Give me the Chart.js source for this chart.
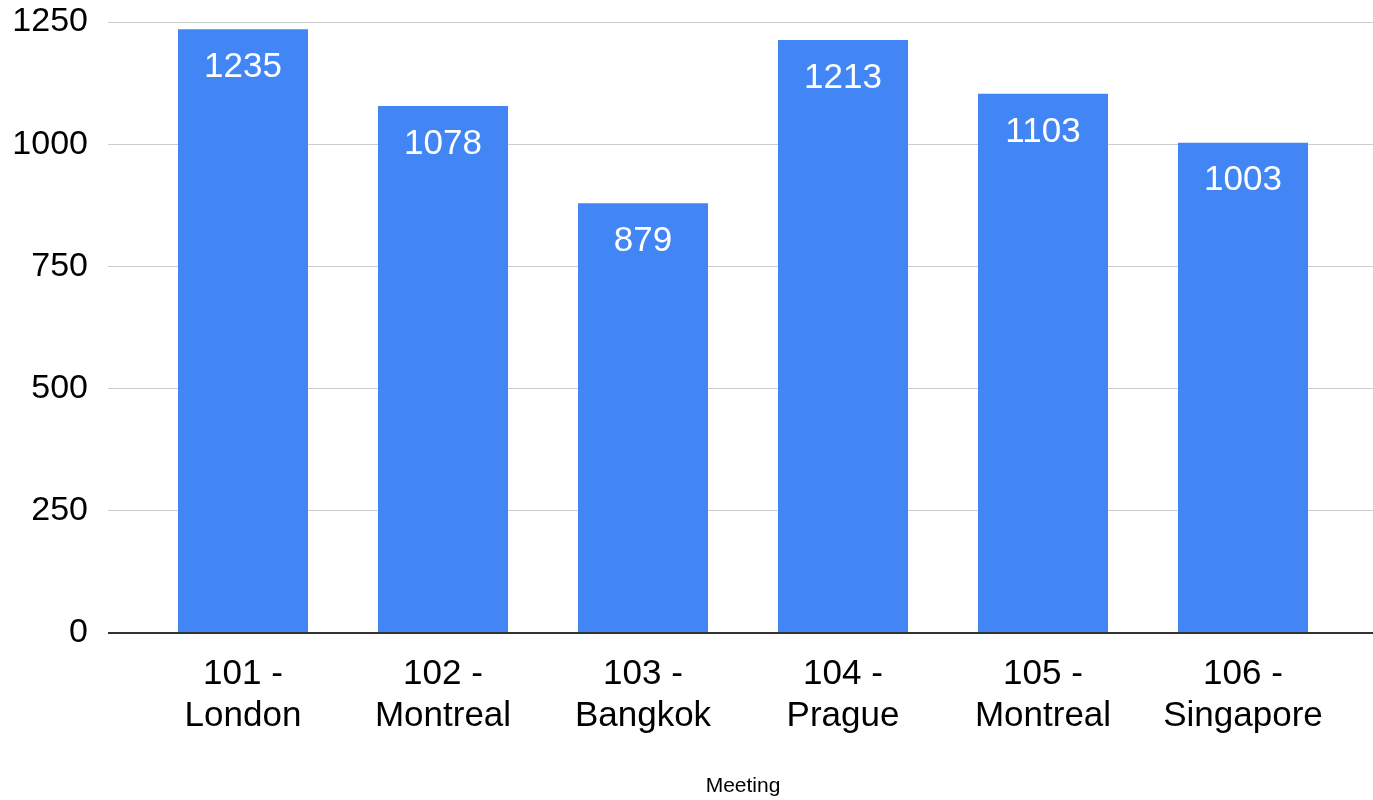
<!DOCTYPE html>
<html>
<head>
<meta charset="utf-8">
<script src="https://cdn.jsdelivr.net/npm/chart.js@4"></script>
<style>
  html, body { margin: 0; padding: 0; background: #fff; }
  #wrap { width: 1373px; height: 800px; }
</style>
</head>
<body>
<div id="wrap"><canvas id="meetingChart"></canvas></div>
<script>
const meetings = [['101 -', 'London'], ['102 -', 'Montreal'], ['103 -', 'Bangkok'],
                  ['104 -', 'Prague'], ['105 -', 'Montreal'], ['106 -', 'Singapore']];
const attendees = [1235, 1078, 879, 1213, 1103, 1003];
const yTicks = [0, 250, 500, 750, 1000, 1250];

const FONT = '"Liberation Sans", Arial, sans-serif';

// white value labels inside the top of each bar
const barLabels = {
    id: 'barLabels',
    afterDatasetsDraw(chart) {
        const ctx = chart.ctx;
        const meta = chart.getDatasetMeta(0);
        ctx.save();
        ctx.fillStyle = '#ffffff';
        ctx.font = '35px ' + FONT;
        ctx.textAlign = 'center';
        ctx.textBaseline = 'middle';
        meta.data.forEach((bar, i) => {
            ctx.fillText(String(attendees[i]), bar.x, bar.y + 38);
        });
        ctx.restore();
    }
};

const ctx = document.getElementById('meetingChart').getContext('2d');
const meetingChart = new Chart(ctx, {
    type: 'bar',
    data: {
        labels: meetings,
        datasets: [{
            label: 'Attendees',
            data: attendees,
            backgroundColor: '#4285f4',
            borderWidth: 0,
            categoryPercentage: 1,
            barPercentage: 0.65,
        }]
    },
    options: {
        responsive: true,
        maintainAspectRatio: false,
        animation: false,
        layout: { padding: { top: 22, right: 0, bottom: 1, left: 0 } },
        plugins: {
            legend: { display: false },
            tooltip: { enabled: false },
        },
        scales: {
            x: {
                grid: { display: false },
                border: { display: false },
                ticks: {
                    color: '#000',
                    font: { family: FONT, size: 35, lineHeight: 1.2 },
                    padding: 12,
                    maxRotation: 0,
                    autoSkip: false,
                },
                title: {
                    display: true,
                    text: 'Meeting',
                    color: '#000',
                    font: { family: FONT, size: 21 },
                    padding: 0,
                },
                afterFit(scale) { scale.height = 166; }
            },
            y: {
                min: 0,
                max: 1250,
                afterBuildTicks(scale) { scale.ticks = yTicks.map(v => ({ value: v })); },
                grid: {
                    color: c => (c.tick && c.tick.value === 0) ? '#333333' : '#cccccc',
                    lineWidth: c => (c.tick && c.tick.value === 0) ? 2 : 1,
                    tickLength: 35,
                },
                border: { display: false },
                ticks: {
                    color: '#000',
                    font: { family: FONT, size: 34 },
                    padding: 20,
                    callback: v => String(v),
                },
                afterFit(scale) {
                    scale.width = 143;
                    scale.paddingTop = 0;
                    scale.paddingBottom = 0;
                }
            },
            yRight: {
                position: 'right',
                min: 0,
                max: 1250,
                afterBuildTicks(scale) { scale.ticks = yTicks.map(v => ({ value: v })); },
                grid: {
                    drawOnChartArea: false,
                    color: c => (c.tick && c.tick.value === 0) ? '#333333' : '#cccccc',
                    lineWidth: c => (c.tick && c.tick.value === 0) ? 2 : 1,
                    tickLength: 30,
                },
                border: { display: false },
                ticks: { display: false },
                afterFit(scale) {
                    scale.width = 30;
                    scale.paddingTop = 0;
                    scale.paddingBottom = 0;
                }
            }
        }
    },
    plugins: [barLabels]
});
</script>
</body>
</html>
